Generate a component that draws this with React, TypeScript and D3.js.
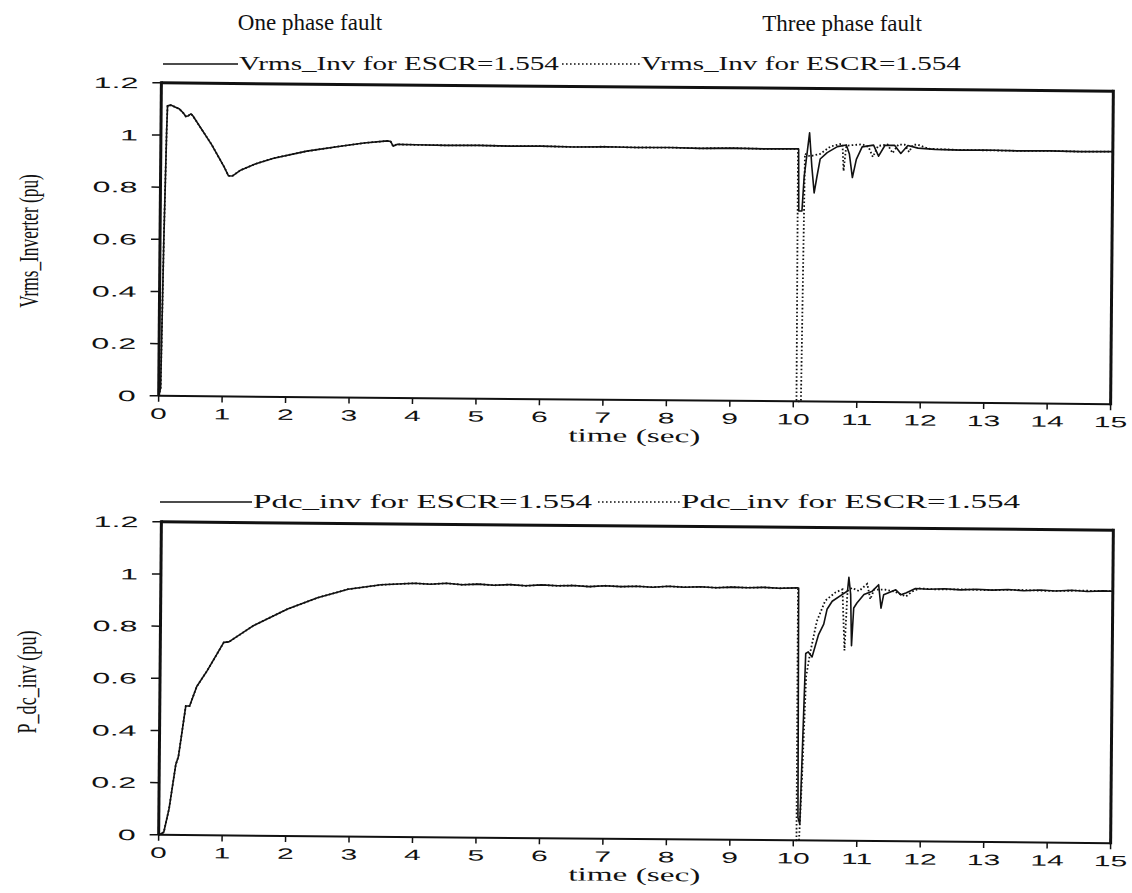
import React from 'react';
import * as d3 from 'd3';

// ---------- DATA ----------
const timeTicks = [0, 1, 2, 3, 4, 5, 6, 7, 8, 9, 10, 11, 12, 13, 14, 15];
const valueTicks = [0, 0.2, 0.4, 0.6, 0.8, 1, 1.2];
const valueTickLabels = ['0', '0.2', '0.4', '0.6', '0.8', '1', '1.2'];

const titles = ['One phase fault', 'Three phase fault'];
const topLegend = ['Vrms_Inv for ESCR=1.554', 'Vrms_Inv for ESCR=1.554'];
const bottomLegend = ['Pdc_inv for ESCR=1.554', 'Pdc_inv for ESCR=1.554'];
const topYLabel = 'Vrms_Inverter (pu)';
const bottomYLabel = 'P_dc_inv (pu)';
const xLabel = 'time (sec)';

// Vrms inverter: start-up and steady state before the fault (shared by both cases)
const vrmsStartup: [number, number][] = [
  [0, 0], [0.03, 0.03], [0.06, 0.6], [0.09, 1.02], [0.1, 1.112], [0.15, 1.115], [0.2, 1.11],
  [0.29, 1.1], [0.35, 1.085], [0.39, 1.072], [0.43, 1.075], [0.47, 1.082], [0.5, 1.075],
  [0.8, 0.965], [1.0, 0.88], [1.07, 0.846], [1.13, 0.845], [1.26, 0.868], [1.5, 0.893],
  [1.78, 0.915], [2.3, 0.943], [2.83, 0.963], [3.2, 0.976], [3.57, 0.985], [3.62, 0.983],
  [3.66, 0.965], [3.72, 0.972], [4.0, 0.971], [4.5, 0.97], [5.0, 0.971], [5.5, 0.969],
  [6.0, 0.97], [6.5, 0.968], [7.0, 0.97], [7.5, 0.968], [8.0, 0.969], [8.5, 0.967],
  [9.0, 0.969], [9.5, 0.967], [10.03, 0.968],
];
// solid: one phase fault
const vrmsOnePhase: [number, number][] = [
  [10.05, 0.968], [10.06, 0.73], [10.11, 0.73], [10.14, 0.86], [10.22, 1.03], [10.26, 0.9],
  [10.3, 0.8], [10.34, 0.86], [10.39, 0.93], [10.5, 0.955], [10.66, 0.978], [10.8, 0.985],
  [10.85, 0.95], [10.9, 0.86], [10.96, 0.93], [11.05, 0.978], [11.23, 0.985], [11.31, 0.943],
  [11.41, 0.985], [11.56, 0.985], [11.66, 0.954], [11.77, 0.985], [11.93, 0.975], [12.2, 0.971],
  [12.6, 0.969], [13.0, 0.97], [13.5, 0.968], [14.0, 0.969], [14.5, 0.967], [15.0, 0.968],
];
// dotted: three phase fault
const vrmsThreePhase: [number, number][] = [
  [10.04, 0.968], [10.05, 0.0], [10.12, 0.0], [10.15, 0.95], [10.23, 0.94], [10.39, 0.95],
  [10.55, 0.978], [10.7, 0.988], [10.74, 0.988], [10.76, 0.885], [10.8, 0.982], [11.05, 0.988],
  [11.15, 0.978], [11.22, 0.94], [11.3, 0.982], [11.45, 0.988], [11.53, 0.955], [11.62, 0.988],
  [11.72, 0.988], [11.79, 0.96], [11.85, 0.988], [11.93, 0.988], [12.1, 0.973], [12.5, 0.97],
  [13.0, 0.969], [13.5, 0.968], [14.0, 0.969], [14.5, 0.967], [15.0, 0.968],
];

// Pdc inverter: start-up and steady state before the fault (shared)
const pdcStartup: [number, number][] = [
  [0, 0], [0.08, 0.01], [0.16, 0.1], [0.26, 0.27], [0.3, 0.3], [0.41, 0.495], [0.47, 0.495],
  [0.58, 0.57], [0.74, 0.63], [1.0, 0.74], [1.08, 0.742], [1.47, 0.806], [2.0, 0.87],
  [2.47, 0.914], [2.84, 0.94], [2.95, 0.948], [3.47, 0.966], [4.0, 0.973], [4.25, 0.97],
  [4.5, 0.974], [4.75, 0.969], [5.0, 0.972], [5.25, 0.968], [5.5, 0.971], [5.75, 0.967],
  [6.0, 0.971], [6.25, 0.968], [6.5, 0.97], [6.75, 0.966], [7.0, 0.97], [7.25, 0.967],
  [7.5, 0.969], [7.75, 0.966], [8.0, 0.97], [8.25, 0.967], [8.5, 0.969], [8.75, 0.966],
  [9.0, 0.969], [9.25, 0.967], [9.5, 0.969], [9.75, 0.966], [10.03, 0.968],
];
const pdcOnePhase: [number, number][] = [
  [10.05, 0.968], [10.07, 0.088], [10.1, 0.063], [10.17, 0.717], [10.21, 0.723], [10.27, 0.704],
  [10.37, 0.79], [10.45, 0.83], [10.5, 0.887], [10.58, 0.918], [10.74, 0.945], [10.82, 0.958],
  [10.84, 1.01], [10.87, 0.945], [10.89, 0.748], [10.92, 0.893], [10.97, 0.912], [11.08, 0.945],
  [11.21, 0.958], [11.31, 0.983], [11.35, 0.893], [11.39, 0.945], [11.58, 0.964], [11.66, 0.945],
  [11.74, 0.952], [11.89, 0.97], [12.1, 0.967], [12.35, 0.97], [12.6, 0.966], [12.85, 0.969],
  [13.1, 0.966], [13.35, 0.969], [13.6, 0.965], [13.85, 0.968], [14.1, 0.965], [14.35, 0.968],
  [14.6, 0.964], [14.85, 0.967], [15.0, 0.966],
];
const pdcThreePhase: [number, number][] = [
  [10.04, 0.968], [10.05, 0.0], [10.09, 0.0], [10.13, 0.25], [10.18, 0.63], [10.24, 0.72],
  [10.34, 0.84], [10.47, 0.92], [10.63, 0.952], [10.74, 0.964], [10.78, 0.73], [10.82, 0.958],
  [10.89, 0.97], [11.0, 0.958], [11.13, 0.986], [11.18, 0.927], [11.24, 0.964], [11.42, 0.964],
  [11.55, 0.958], [11.74, 0.939], [11.84, 0.958], [11.95, 0.97], [12.2, 0.967], [12.6, 0.968],
  [13.0, 0.966], [13.5, 0.968], [14.0, 0.965], [14.5, 0.967], [15.0, 0.966],
];

// ---------- LAYOUT ----------
const W = 1132;
const H = 893;
const SANS = '"Liberation Sans", Arial, sans-serif';
const SERIF = '"Liberation Serif", "Times New Roman", serif';

type PanelLayout = {
  left: number; right: number; top: number; bottom: number; tilt: number;
  legendY: number; legSolid: [number, number]; legText1: number; legDotted: [number, number]; legText2: number;
  legSize: number; legScale: number;
  yLabelX: number; yLabelY: number; yLabelSize: number; yLabelScale: number;
};

const topLayout: PanelLayout = {
  left: 160, right: 1112, top: 87, bottom: 400, tilt: 0.5,
  legendY: 64, legSolid: [163, 238], legText1: 239, legDotted: [562, 640], legText2: 641,
  legSize: 18, legScale: 1.62,
  yLabelX: 38, yLabelY: 241, yLabelSize: 27, yLabelScale: 0.64,
};
const bottomLayout: PanelLayout = {
  left: 160, right: 1112, top: 526, bottom: 839, tilt: 0.5,
  legendY: 502, legSolid: [160, 252], legText1: 253, legDotted: [598, 680], legText2: 681,
  legSize: 19, legScale: 1.74,
  yLabelX: 36, yLabelY: 682, yLabelSize: 27, yLabelScale: 0.67,
};

function SText(props: {
  x: number; y: number; sx?: number; size: number; family: string; anchor?: string; rotate?: number; children: React.ReactNode;
}) {
  const { x, y, sx = 1, size, family, anchor = 'start', rotate, children } = props;
  const t = `translate(${x},${y})${rotate ? ` rotate(${rotate})` : ''} scale(${sx},1)`;
  return (
    <text transform={t} fontSize={size} fontFamily={family} textAnchor={anchor as any} fill="#111">
      {children}
    </text>
  );
}

function Panel({ L, solid, dotted, legend, yLabel }: {
  L: PanelLayout; solid: [number, number][]; dotted: [number, number][]; legend: string[]; yLabel: string;
}) {
  const x = d3.scaleLinear().domain([0, 15]).range([L.left, L.right]);
  const y = d3.scaleLinear().domain([0, 1.2]).range([L.bottom, L.top]);
  const line = d3.line<[number, number]>().x(d => x(d[0])).y(d => y(d[1]));
  const cx = (L.left + L.right) / 2;
  const cy = (L.top + L.bottom) / 2;
  return (
    <g>
      {/* legend */}
      <line x1={L.legSolid[0]} x2={L.legSolid[1]} y1={L.legendY} y2={L.legendY} stroke="#111" strokeWidth={1.5} />
      <SText x={L.legText1} y={L.legendY + 6} sx={L.legScale} size={L.legSize} family={SERIF}>{legend[0]}</SText>
      <line x1={L.legDotted[0]} x2={L.legDotted[1]} y1={L.legendY} y2={L.legendY} stroke="#111" strokeWidth={1.6} strokeDasharray="1.6,2.4" />
      <SText x={L.legText2} y={L.legendY + 6} sx={L.legScale} size={L.legSize} family={SERIF}>{legend[1]}</SText>

      <SText x={L.yLabelX} y={L.yLabelY} rotate={-90} sx={L.yLabelScale} size={L.yLabelSize} family={SERIF} anchor="middle">{yLabel}</SText>

      <g transform={`rotate(${L.tilt},${cx},${cy})`}>
        {/* data */}
        <path d={line(dotted) || ''} fill="none" stroke="#111" strokeWidth={1.8} strokeDasharray="1.6,2.2" />
        <path d={line(solid) || ''} fill="none" stroke="#111" strokeWidth={1.6} strokeLinejoin="round" />

        {/* frame */}
        <line x1={L.left} x2={L.right} y1={L.bottom} y2={L.bottom} stroke="#111" strokeWidth={2} />
        <line x1={L.left} x2={L.right} y1={L.top} y2={L.top} stroke="#111" strokeWidth={3} />
        <line x1={L.left} x2={L.left} y1={L.top - 1.5} y2={L.bottom} stroke="#111" strokeWidth={3} />
        <line x1={L.right} x2={L.right} y1={L.top - 1.5} y2={L.bottom + 1} stroke="#111" strokeWidth={3} />

        {/* y ticks */}
        {valueTicks.map((v, i) => (
          <g key={'y' + i}>
            <line x1={L.left - 9} x2={L.left} y1={y(v)} y2={y(v)} stroke="#111" strokeWidth={1.5} />
            <SText x={L.left - 23} y={y(v) + 5.5} sx={2.15} size={15} family={SANS} anchor="end">{valueTickLabels[i]}</SText>
          </g>
        ))}
        {/* x ticks */}
        {timeTicks.map((t, i) => (
          <g key={'x' + i}>
            <line x1={x(t)} x2={x(t)} y1={L.bottom} y2={L.bottom + 6} stroke="#111" strokeWidth={1.5} />
            <SText x={x(t)} y={L.bottom + 23} sx={2.0} size={15} family={SANS} anchor="middle">{String(t)}</SText>
          </g>
        ))}
        <SText x={cx} y={L.bottom + 42} sx={1.75} size={19} family={SERIF} anchor="middle">{xLabel}</SText>
      </g>
    </g>
  );
}

export default function App() {
  const vrmsSolid = [...vrmsStartup, ...vrmsOnePhase];
  const vrmsDotted = [...vrmsStartup, ...vrmsThreePhase];
  const pdcSolid = [...pdcStartup, ...pdcOnePhase];
  const pdcDotted = [...pdcStartup, ...pdcThreePhase];
  return (
    <svg width={W} height={H} viewBox={`0 0 ${W} ${H}`} style={{ display: 'block', position: 'absolute', left: 0, top: 0, background: '#fff' }}>
      <rect x={0} y={0} width={W} height={H} fill="#fff" />
      <SText x={310} y={30} sx={1.0} size={23} family={SERIF} anchor="middle">{titles[0]}</SText>
      <SText x={842} y={31} sx={1.0} size={23} family={SERIF} anchor="middle">{titles[1]}</SText>
      <Panel L={topLayout} solid={vrmsSolid} dotted={vrmsDotted} legend={topLegend} yLabel={topYLabel} />
      <Panel L={bottomLayout} solid={pdcSolid} dotted={pdcDotted} legend={bottomLegend} yLabel={bottomYLabel} />
    </svg>
  );
}
